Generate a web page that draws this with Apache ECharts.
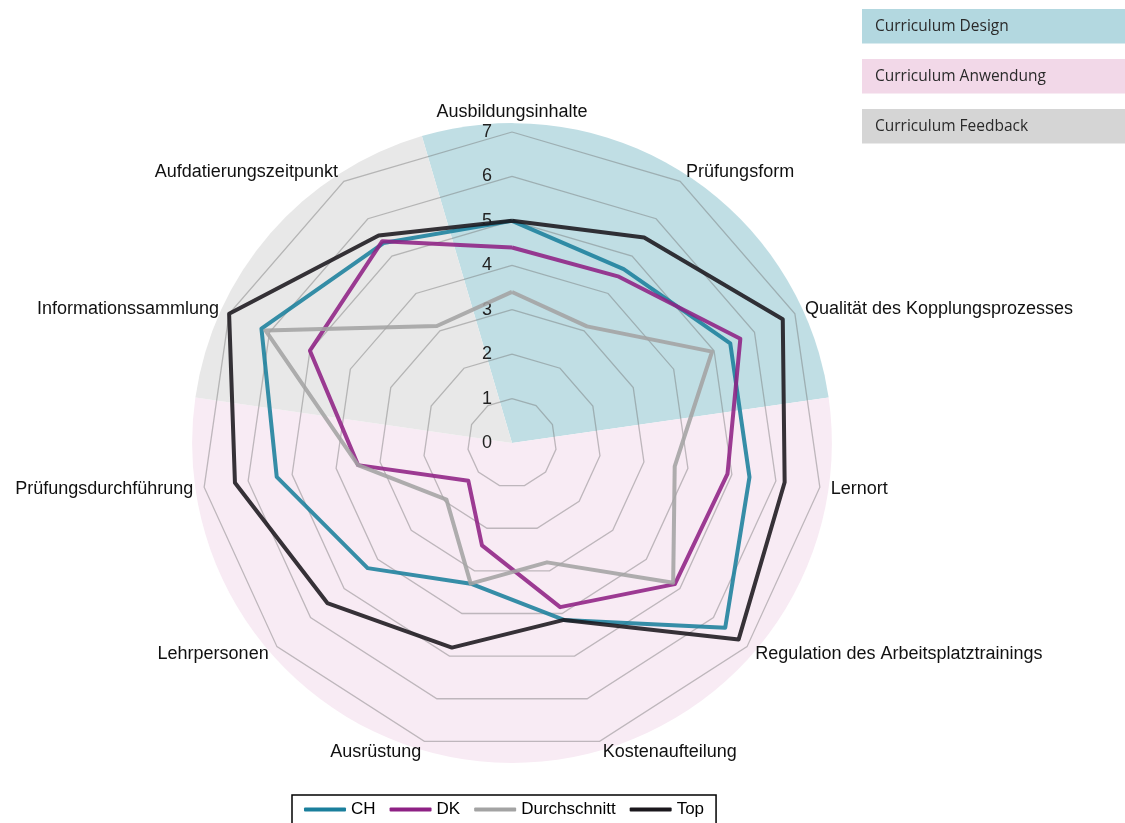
<!DOCTYPE html>
<html><head><meta charset="utf-8">
<script src="https://cdn.jsdelivr.net/npm/echarts@6/dist/echarts.min.js"></script>
<style>html,body{margin:0;padding:0;background:#fff}#c{width:1125px;height:823px}</style>
</head><body><div id="c"></div>
<script>
const categories = ['Ausbildungsinhalte','Prüfungsform','Qualität des Kopplungsprozesses','Lernort','Regulation des Arbeitsplatztrainings','Kostenaufteilung','Ausrüstung','Lehrpersonen','Prüfungsdurchführung','Informationssammlung','Aufdatierungszeitpunkt'];
const seriesNames = ['CH','DK','Durchschnitt','Top'];
const valuesCH  = [5.0, 4.65, 5.4, 5.4, 6.35, 4.15, 3.3, 4.3, 5.35, 6.2, 5.35];
const valuesDK  = [4.4, 4.45, 5.65, 4.9, 4.85, 3.85, 2.4, 1.3, 3.5, 5.0, 5.4];
const valuesAvg = [3.4, 3.12, 4.95, 3.7, 4.8, 2.8, 3.3, 1.95, 3.5, 6.1, 3.13];
const valuesTop = [5.0, 5.5, 6.7, 6.2, 6.75, 4.15, 4.8, 5.5, 6.3, 7.0, 5.55];
const tickLabels = ['0','1','2','3','4','5','6','7'];
const groupNames = ['Curriculum Design','Curriculum Anwendung','Curriculum Feedback'];
const groupSizes = [3, 6, 2];

const seriesColors = ['#1a7f9c','#8e2184','#a3a3a3','#1a171c'];
const groupFill = ['#c0dee4','#f8ebf4','#e8e8e8'];
const groupBox = ['#b3d8e0','#f2d8e8','#d5d5d5'];

const n = categories.length;
const maxV = tickLabels.length - 1;
const cx = 512, cy = 443, R = 311;
// ECharts radar goes counter-clockwise; reorder so the chart reads clockwise
const order = [0].concat(Array.from({length: n - 1}, (_, i) => n - 1 - i));
const reorder = arr => order.map(i => arr[i]);

const indicator = reorder(categories).map((name, i) => {
  const o = { name: name, min: 0, max: maxV };
  if (i === 0) o.axisLabel = { show: true };
  return o;
});

const chart = echarts.init(document.getElementById('c'), null, {renderer: 'canvas'});
const allVals = [valuesCH, valuesDK, valuesAvg, valuesTop];

chart.setOption({
  animation: false,
  backgroundColor: '#ffffff',
  radar: {
    z: 1,
    center: [cx, cy],
    radius: R,
    startAngle: 90,
    shape: 'polygon',
    splitNumber: maxV,
    indicator: indicator,
    nameGap: 11,
    axisName: { color: '#111', fontSize: 18, fontFamily: 'Liberation Sans, Arial, sans-serif' },
    axisLine: { show: false },
    axisTick: { show: false },
    splitArea: { show: false },
    splitLine: { lineStyle: { color: 'rgba(110,110,110,0.42)', width: 1.3 } },
    axisLabel: {
      show: false, color: '#222', fontSize: 18, margin: 20,
      fontFamily: 'Liberation Sans, Arial, sans-serif',
      formatter: v => tickLabels[Math.round(v)]
    }
  },
  legend: {
    left: 292, top: 795,
    orient: 'horizontal',
    borderColor: '#000', borderWidth: 1.5,
    padding: [6, 12, 20, 12],
    itemGap: 14, itemWidth: 42, itemHeight: 4,
    textStyle: { color: '#000', fontSize: 17, fontFamily: 'Liberation Sans, Arial, sans-serif' },
    data: seriesNames.map(s => ({ name: s, icon: 'roundRect' }))
  },
  graphic: groupNames.flatMap((g, i) => [
    { type: 'rect', silent: true, shape: { x: 862, y: 9 + i * 50, width: 263, height: 34.5 }, style: { fill: groupBox[i] } },
    { type: 'text', silent: true, x: 875, y: 26.5 + i * 50, style: { text: g, fill: '#2a2a2a', font: '15.5px "Open Sans", sans-serif', verticalAlign: 'middle' } }
  ]),
  series: [
    {
      type: 'pie', z: 0, silent: true,
      center: [cx, cy], radius: R * 7.2 / maxV,
      startAngle: 90 + 180 / n, clockwise: true,
      label: { show: false }, labelLine: { show: false },
      emphasis: { disabled: true },
      itemStyle: { borderWidth: 0 },
      data: groupNames.map((g, i) => ({ name: g, value: groupSizes[i], itemStyle: { color: groupFill[i] } }))
    },
    ...seriesNames.map((s, i) => ({
      type: 'radar', z: 3, name: s,
      symbol: 'none',
      color: seriesColors[i],
      lineStyle: { width: 4, color: seriesColors[i], opacity: 0.88 },
      data: [{ name: s, value: reorder(allVals[i]) }]
    }))
  ]
});
</script></body></html>
